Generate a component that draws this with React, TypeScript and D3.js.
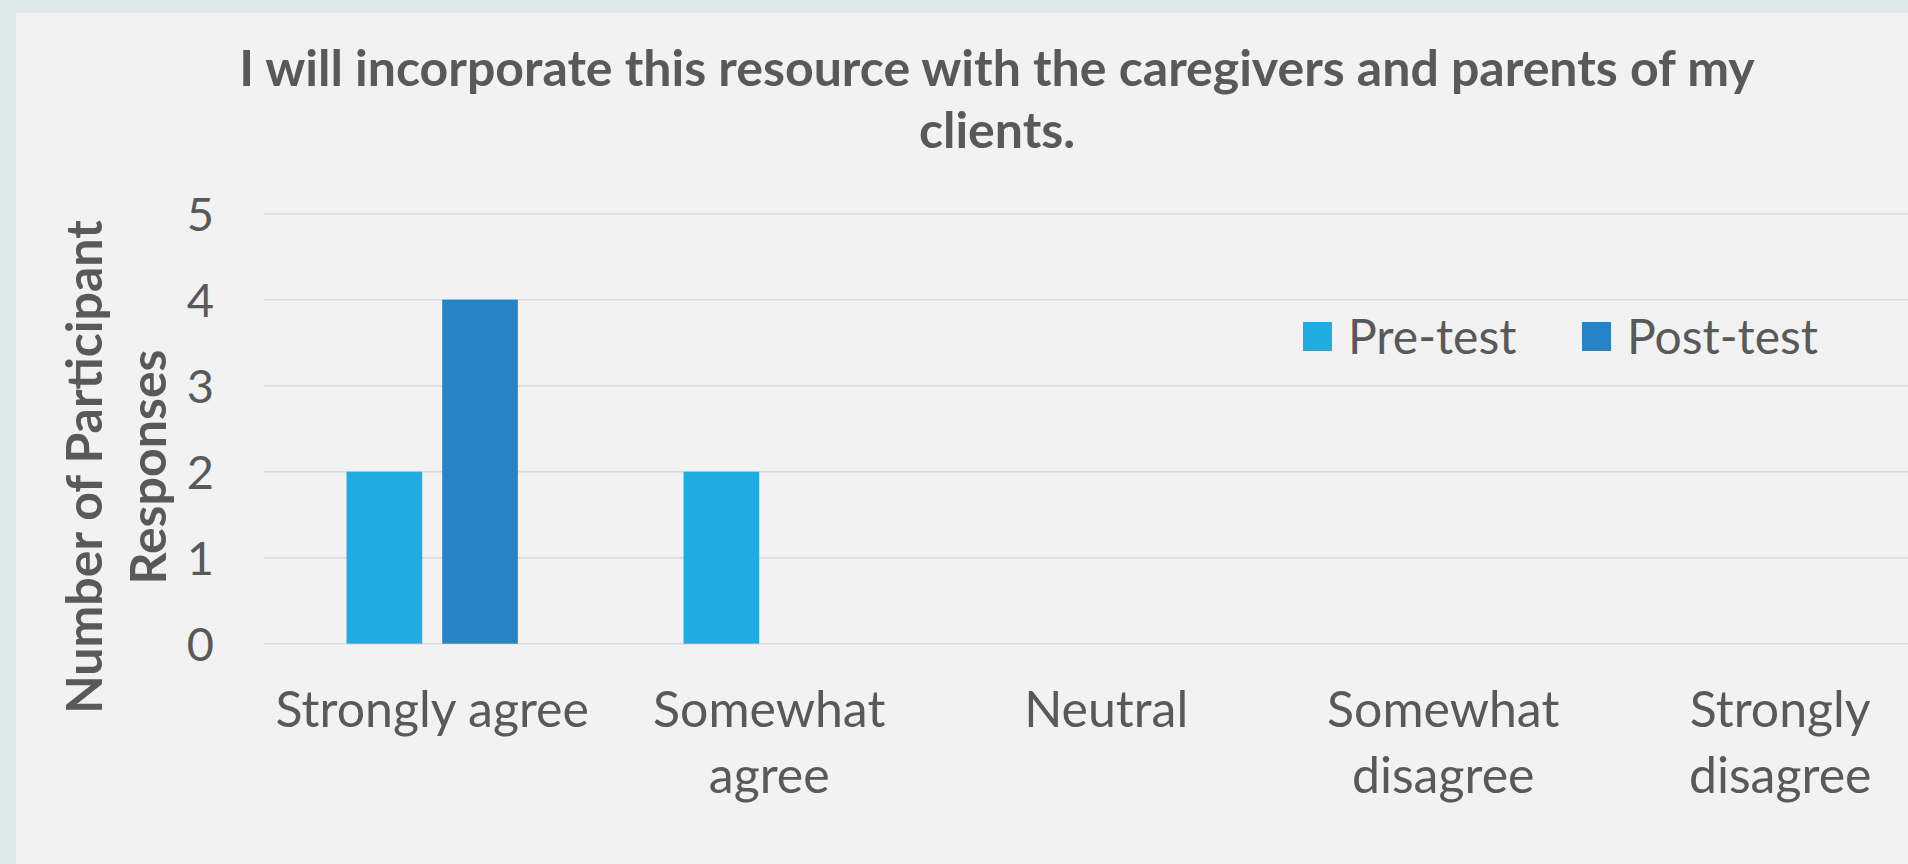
import { useEffect, useRef } from 'react'
import * as d3 from 'd3'

const categories = ['Strongly agree', 'Somewhat agree', 'Neutral', 'Somewhat disagree', 'Strongly disagree']
const seriesNames = ['Pre-test', 'Post-test']
const preTest = [2, 2, 0, 0, 0]
const postTest = [4, 0, 0, 0, 0]
const yTicks = [0, 1, 2, 3, 4, 5]
const titleLines = ['I will incorporate this resource with the caregivers and parents of my', 'clients.']
const yTitleLines = ['Number of Participant', 'Responses']

const colors = ['#1FACE3', '#2683C6']
const textColor = '#595959'
const font = 'Lato, "Open Sans", sans-serif'

export default function App() {
  const svgRef = useRef<SVGSVGElement>(null)
  const width = 1908
  const height = 864

  useEffect(() => {
    if (!svgRef.current) return
    const svg = d3.select(svgRef.current)
    svg.selectAll('*').remove()

    // outer frame + panel
    svg.append('rect').attr('width', width).attr('height', height).attr('fill', '#DEEAEA')
    svg.append('rect')
      .attr('x', 16).attr('y', 13)
      .attr('width', width - 16).attr('height', height - 13)
      .attr('fill', '#F2F2F2')

    const plotLeft = 263.7
    const step = 337
    const x = d3.scaleBand<string>()
      .domain(categories)
      .range([plotLeft, plotLeft + step * categories.length])
      .paddingInner(0)
      .paddingOuter(0)

    const xInner = d3.scaleBand<string>()
      .domain(seriesNames)
      .range([0, x.bandwidth()])
      .paddingInner(0.209)
      .paddingOuter(0.866)

    const y = d3.scaleLinear().domain([0, 5]).range([643.7, 213.7])

    // gridlines
    svg.append('g')
      .selectAll('line')
      .data(yTicks)
      .join('line')
      .attr('x1', plotLeft)
      .attr('x2', width)
      .attr('y1', d => y(d))
      .attr('y2', d => y(d))
      .attr('stroke', '#D9D9D9')
      .attr('stroke-width', 1.5)

    // y tick labels
    svg.append('g')
      .selectAll('text')
      .data(yTicks)
      .join('text')
      .attr('x', 214)
      .attr('y', d => y(d))
      .attr('dy', '0.36em')
      .attr('text-anchor', 'end')
      .attr('font-family', font)
      .attr('font-size', 47)
      .attr('fill', textColor)
      .text(d => d)

    // bars
    const values = [preTest, postTest]
    values.forEach((vals, si) => {
      svg.append('g')
        .selectAll('rect')
        .data(vals.map((v, i) => ({ cat: categories[i], v })).filter(d => d.v > 0))
        .join('rect')
        .attr('x', d => (x(d.cat) ?? 0) + (xInner(seriesNames[si]) ?? 0))
        .attr('width', xInner.bandwidth())
        .attr('y', d => y(d.v))
        .attr('height', d => y(0) - y(d.v))
        .attr('fill', colors[si])
    })

    // x labels, wrapped to band width
    const xLabels = svg.append('g')
    categories.forEach(cat => {
      const cx = (x(cat) ?? 0) + x.bandwidth() / 2
      const t = xLabels.append('text')
        .attr('x', cx)
        .attr('y', 727)
        .attr('text-anchor', 'middle')
        .attr('font-family', font)
        .attr('font-size', 50)
        .attr('fill', textColor)
      const words = cat.split(' ')
      let line: string[] = []
      let tspan = t.append('tspan').attr('x', cx).attr('dy', 0)
      words.forEach(w => {
        line.push(w)
        tspan.text(line.join(' '))
        if ((tspan.node() as SVGTSpanElement).getComputedTextLength() > x.bandwidth() - 10 && line.length > 1) {
          line.pop()
          tspan.text(line.join(' '))
          line = [w]
          tspan = t.append('tspan')
            .attr('x', cx)
            .attr('dy', 66)
            .text(w)
        }
      })
    })

    // title
    svg.append('text')
      .attr('text-anchor', 'middle')
      .attr('font-family', font)
      .attr('font-size', 50)
      .attr('font-weight', 700)
      .attr('fill', textColor)
      .selectAll('tspan')
      .data(titleLines)
      .join('tspan')
      .attr('x', 997)
      .attr('y', (d, i) => 86 + i * 62)
      .text(d => d)

    // y axis title
    svg.append('text')
      .attr('transform', 'translate(0,467) rotate(-90)')
      .attr('text-anchor', 'middle')
      .attr('font-family', font)
      .attr('font-size', 50)
      .attr('font-weight', 700)
      .attr('fill', textColor)
      .selectAll('tspan')
      .data(yTitleLines)
      .join('tspan')
      .attr('x', 0)
      .attr('y', (d, i) => 102 + i * 64)
      .text(d => d)

    // legend
    const legendX = [1303, 1582]
    const legend = svg.append('g')
    seriesNames.forEach((name, i) => {
      legend.append('rect')
        .attr('x', legendX[i])
        .attr('y', 322)
        .attr('width', 29)
        .attr('height', 29)
        .attr('fill', colors[i])
      legend.append('text')
        .attr('x', legendX[i] + 45)
        .attr('y', 337)
        .attr('dy', '0.36em')
        .attr('font-family', font)
        .attr('font-size', 48)
        .attr('fill', textColor)
        .text(name)
    })
  }, [])

  return (
    <div>
      <style>{'body{margin:0;overflow:hidden}'}</style>
      <svg ref={svgRef} width={width} height={height} style={{ display: 'block' }} />
    </div>
  )
}
